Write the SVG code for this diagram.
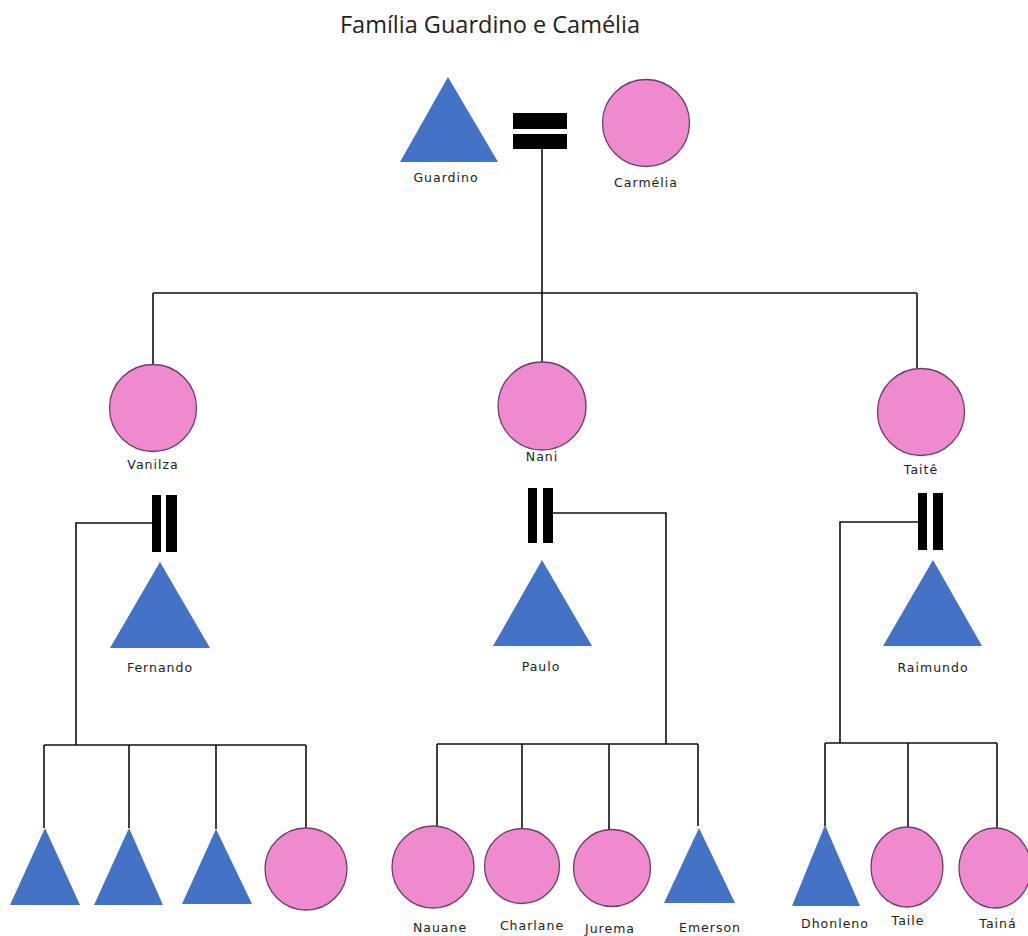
<svg xmlns="http://www.w3.org/2000/svg" width="1028" height="936" viewBox="0 0 1028 936">
<style>
.m{fill:#4472C4}
.f{fill:#F08ACF;stroke:#6B3F66;stroke-width:1.3}
.bar{fill:#000}
.ln{fill:none;stroke:#111;stroke-width:1.6}
.lb{font-family:"DejaVu Sans","Liberation Sans",sans-serif;font-size:12.5px;letter-spacing:1px;fill:#222;text-anchor:middle}
.t{font-family:"Open Sans","Noto Sans",sans-serif;font-size:23.5px;fill:#222;text-anchor:middle}
</style>
<rect width="1028" height="936" fill="#fff"/>
<text class="t" x="490" y="33">Família Guardino e Camélia</text>
<g id="connectors">
<path class="ln" d="M542 149V293M153 293H917M153 293V365M542 293V362M917 293V368"/>
<path class="ln" d="M152 523H76V745M44 745H306M44 745V828M129 745V828M216 745V829M306 745V828"/>
<path class="ln" d="M553 513H666V744M437 744H698M437 744V826M522 744V829M609 744V830M698 744V826"/>
<path class="ln" d="M918 522H840V743M825 743H997M825 743V826M908 743V827M997 743V828"/>
</g>
<g id="marriage1"><rect class="bar" x="513" y="113" width="54" height="16"/><rect class="bar" x="513" y="134" width="54" height="15"/></g>
<g id="marriage2"><rect class="bar" x="152" y="495" width="9" height="57"/><rect class="bar" x="166" y="495" width="11" height="57"/></g>
<g id="marriage3"><rect class="bar" x="528" y="488" width="9" height="55"/><rect class="bar" x="543" y="488" width="10" height="55"/></g>
<g id="marriage4"><rect class="bar" x="918" y="493" width="9" height="57"/><rect class="bar" x="933" y="493" width="10" height="57"/></g>
<g id="guardino"><polygon class="m" points="448,77 498,162 400,162"/><text class="lb" x="446" y="182">Guardino</text></g>
<g id="carmelia"><circle class="f" cx="646" cy="123" r="43.5"/><text class="lb" x="646" y="187">Carmélia</text></g>
<g id="vanilza"><circle class="f" cx="153" cy="408" r="43.5"/><text class="lb" x="153" y="469">Vanilza</text></g>
<g id="nani"><circle class="f" cx="542" cy="406" r="44"/><text class="lb" x="542" y="461">Nani</text></g>
<g id="taite"><circle class="f" cx="921" cy="412" r="43.5"/><text class="lb" x="921" y="474">Taitê</text></g>
<g id="fernando"><polygon class="m" points="160,562 210,648 110,648"/><text class="lb" x="160" y="672">Fernando</text></g>
<g id="paulo"><polygon class="m" points="542,560 592,646 493,646"/><text class="lb" x="541" y="671">Paulo</text></g>
<g id="raimundo"><polygon class="m" points="933,560 982,646 883,646"/><text class="lb" x="933" y="672">Raimundo</text></g>
<g id="child1"><polygon class="m" points="45,828 80,905 10,905"/></g>
<g id="child2"><polygon class="m" points="129,828 163,905 94,905"/></g>
<g id="child3"><polygon class="m" points="216,829 252,904 182,904"/></g>
<g id="child4"><circle class="f" cx="306" cy="869" r="41"/></g>
<g id="nauane"><circle class="f" cx="433" cy="867" r="41"/><text class="lb" x="440" y="932">Nauane</text></g>
<g id="charlane"><circle class="f" cx="522" cy="866" r="37.5"/><text class="lb" x="532" y="930">Charlane</text></g>
<g id="jurema"><circle class="f" cx="612" cy="868" r="38.5"/><text class="lb" x="610" y="933">Jurema</text></g>
<g id="emerson"><polygon class="m" points="699,828 735,903 664,903"/><text class="lb" x="710" y="932">Emerson</text></g>
<g id="dhonleno"><polygon class="m" points="825,825 860,906 792,906"/><text class="lb" x="835" y="928">Dhonleno</text></g>
<g id="taile"><ellipse class="f" cx="907" cy="867" rx="36" ry="40"/><text class="lb" x="908" y="925">Taile</text></g>
<g id="taina"><ellipse class="f" cx="995" cy="868" rx="36" ry="40"/><text class="lb" x="998" y="928">Tainá</text></g>
</svg>
